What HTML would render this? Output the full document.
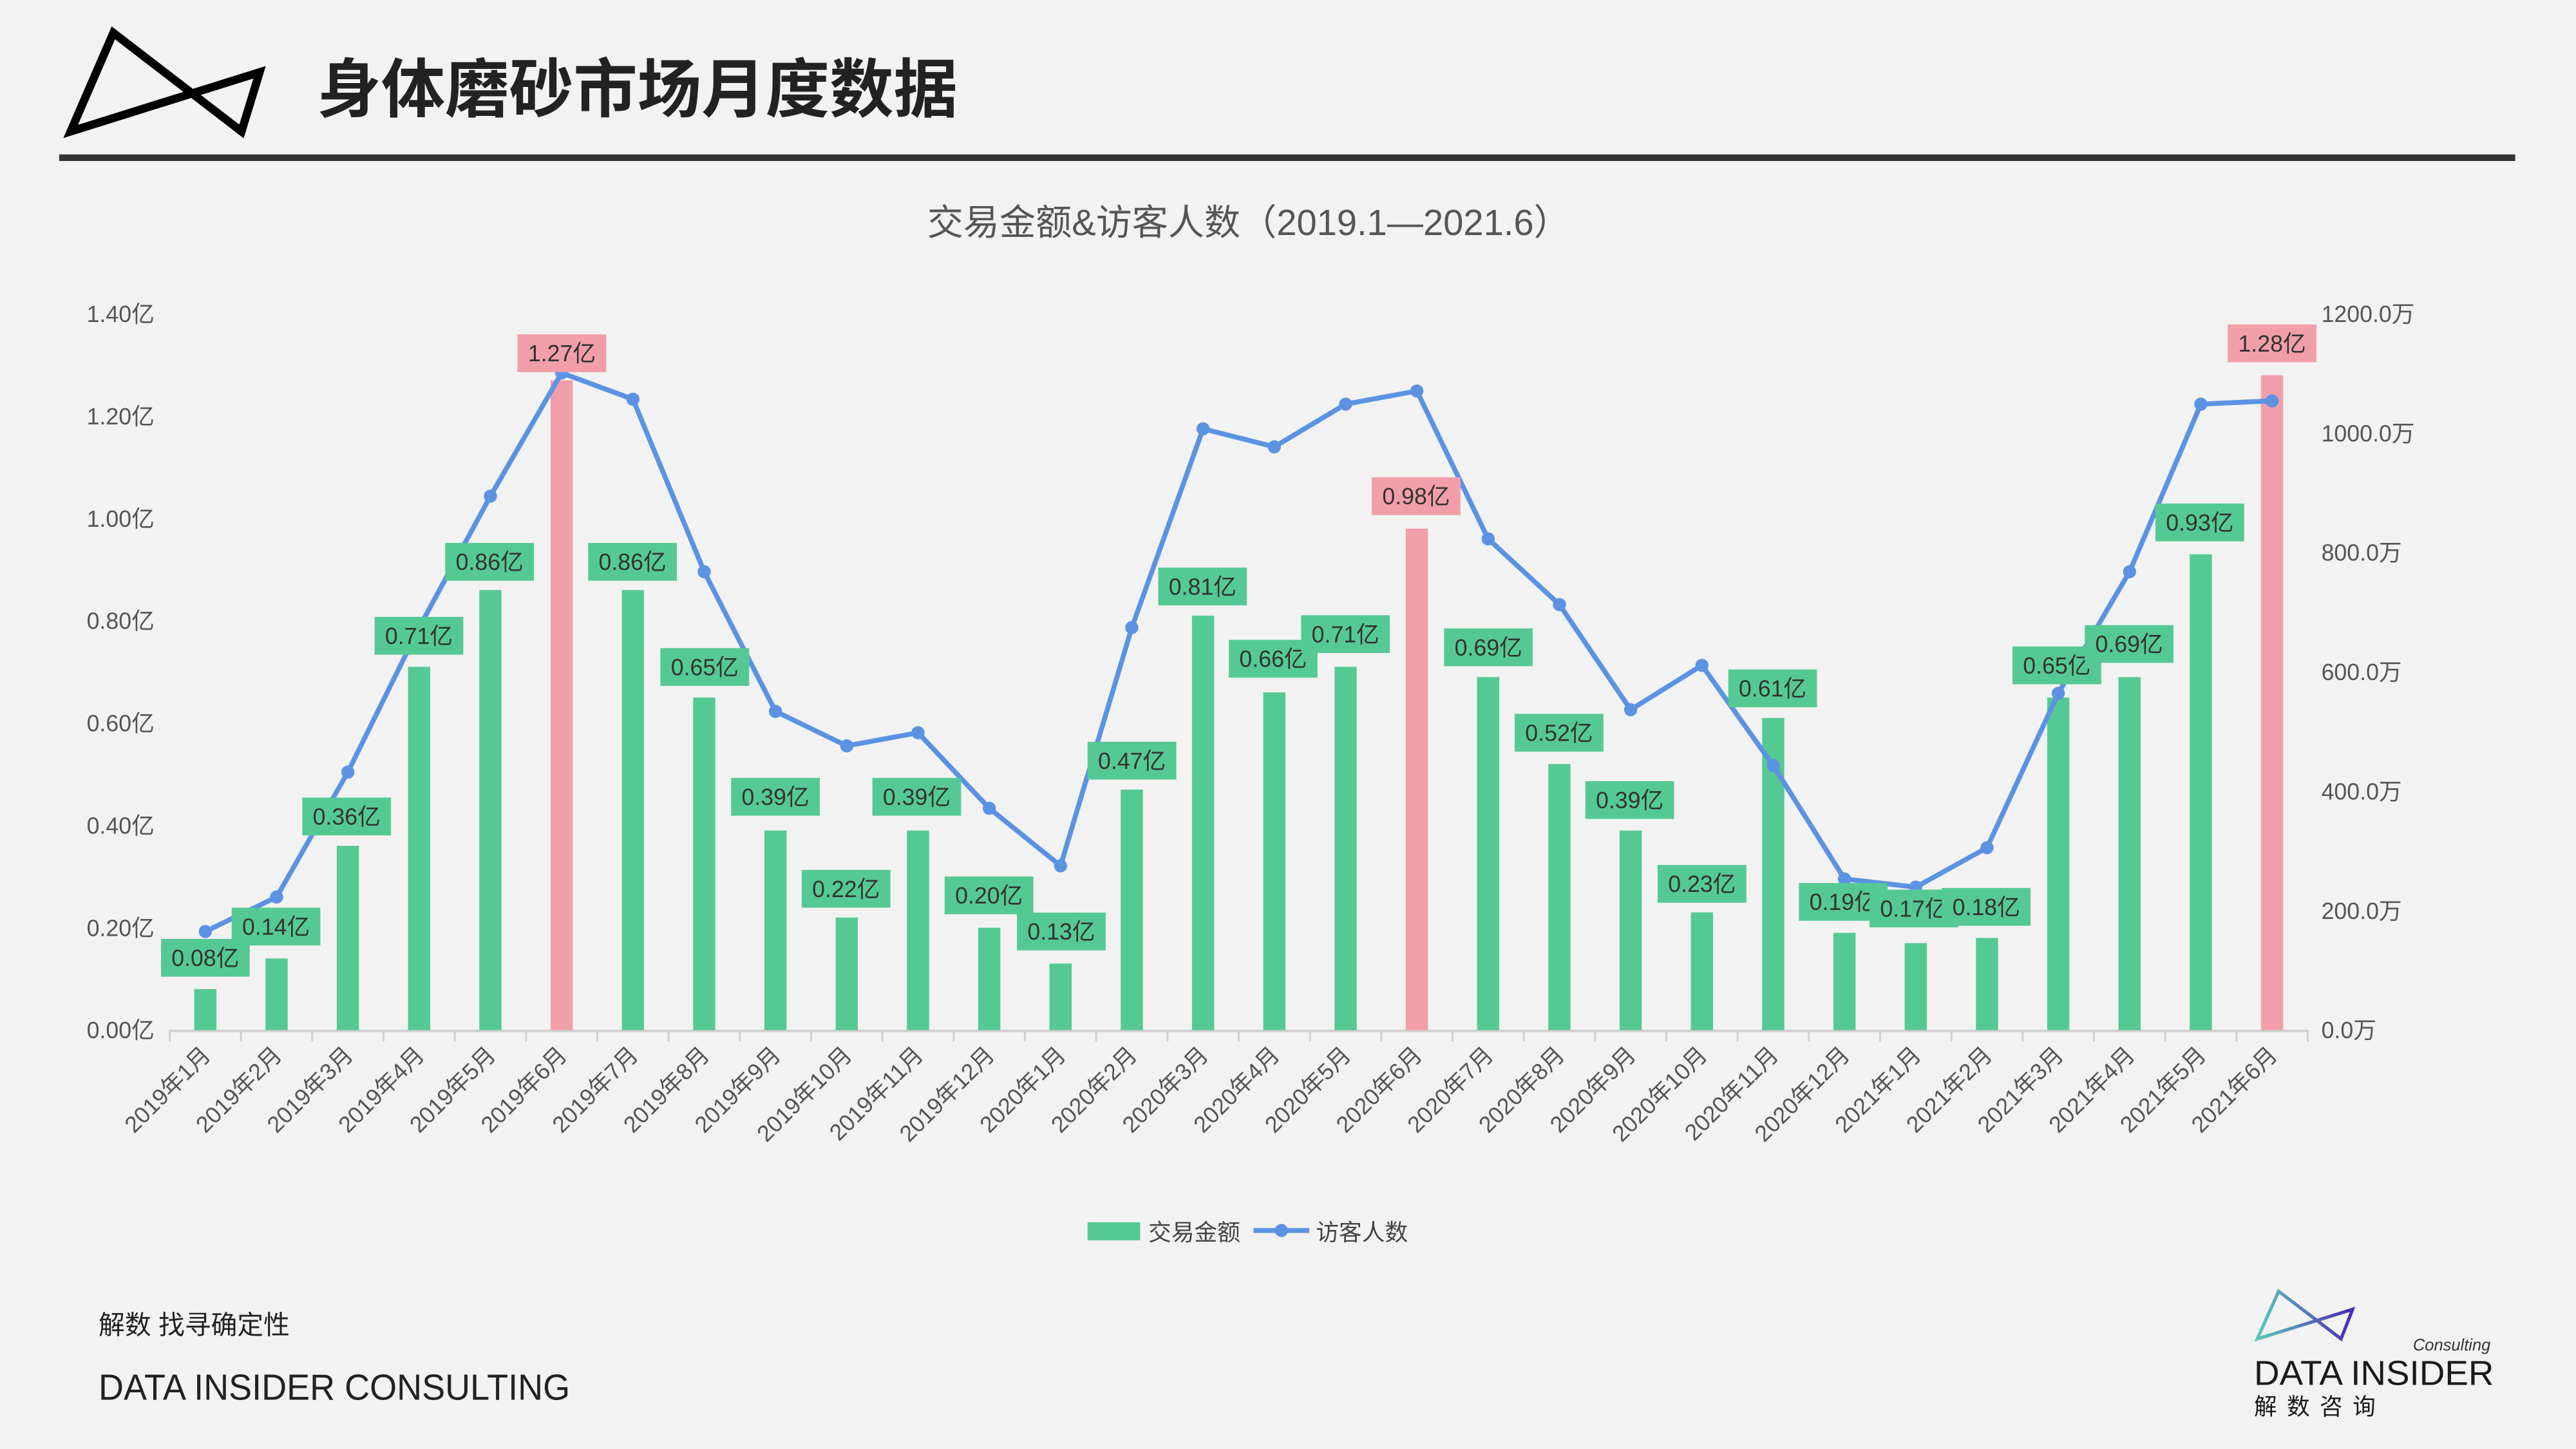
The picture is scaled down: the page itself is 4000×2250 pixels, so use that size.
<!DOCTYPE html>
<html><head><meta charset="utf-8"><style>html,body{margin:0;padding:0;background:#f2f2f2;}svg{display:block;}</style></head>
<body>
<svg width="4000" height="2250" viewBox="0 0 1568 882" xmlns="http://www.w3.org/2000/svg" font-family="Liberation Sans, Noto Sans CJK SC, sans-serif">
<defs><linearGradient id="lg" x1="0" x2="1" y1="0" y2="0"><stop offset="0" stop-color="#5cc9b8"/><stop offset="1" stop-color="#4a2ab5"/></linearGradient></defs>
<rect width="1568" height="882" fill="#f2f2f2"/>
<polygon points="69,20 147,80 158,44 43,80" fill="none" stroke="#000" stroke-width="5" stroke-linejoin="miter"/>
<text x="193" y="68" font-size="39" font-weight="bold" fill="#222">身体磨砂市场月度数据</text>
<rect x="36" y="94" width="1495" height="4" fill="#333"/>
<text x="760" y="143" font-size="22" fill="#555" text-anchor="middle">交易金额&amp;访客人数（2019.1—2021.6）</text>
<g id="chart"></g>
<rect x="662" y="744" width="32" height="11" fill="#55c994"/>
<text x="699" y="755" font-size="14" fill="#444">交易金额</text>
<line x1="763" y1="749" x2="797" y2="749" stroke="#5b93e2" stroke-width="3"/>
<circle cx="780" cy="749" r="4" fill="#5b93e2"/>
<text x="801" y="755" font-size="14" fill="#444">访客人数</text>
<text x="60" y="812" font-size="16" fill="#222">解数 找寻确定性</text>
<text x="60" y="852" font-size="22" fill="#222" textLength="287" lengthAdjust="spacingAndGlyphs">DATA INSIDER CONSULTING</text>
<polygon points="1387,786 1425,815 1432,797 1374,815" fill="none" stroke="url(#lg)" stroke-width="2"/>
<text x="1516" y="822" font-size="10" font-style="italic" fill="#333" text-anchor="end">Consulting</text>
<text x="1372" y="843" font-size="21" fill="#1a1a1a" textLength="146" lengthAdjust="spacingAndGlyphs">DATA INSIDER</text>
<text x="1372" y="861" font-size="14" fill="#1a1a1a" letter-spacing="6">解数咨询</text>
<script>
var ns="http://www.w3.org/2000/svg",g=document.getElementById('chart');
function el(t,a,txt){var e=document.createElementNS(ns,t);for(var k in a)e.setAttribute(k,a[k]);if(txt!=null)e.textContent=txt;g.appendChild(e);return e;}
var B=627,T=191,H=B-T;
for(var i=0;i<=7;i++){var y=B-H*i/7;el('text',{x:94,y:y+5,'font-size':14,fill:'#555','text-anchor':'end'},(i*0.2).toFixed(2)+'亿');}
for(var i=0;i<=6;i++){var y=B-H*i/6;el('text',{x:1413,y:y+5,'font-size':14,fill:'#555'},(i*200).toFixed(1)+'万');}
var bars=[0.08,0.14,0.36,0.71,0.86,1.27,0.86,0.65,0.39,0.22,0.39,0.20,0.13,0.47,0.81,0.66,0.71,0.98,0.69,0.52,0.39,0.23,0.61,0.19,0.17,0.18,0.65,0.69,0.93,1.28];
var ly=[567,546,470,382,302,227,243,348,433,454,446,492,527,382,261,272,246,238,328,368,432,405,466,535,540,516,422,348,246,244];
var lab=[[125,583],[168,564],[211,497],[255,387],[298,342],[342,215],[385,342],[429,406],[472,485],[515,541],[558,485],[602,545],[646,567],[689,463],[732,357],[775,401],[819,386],[862,302],[906,394],[949,446],[992,487],[1036,538],[1079,419],[1122,549],[1165,553],[1209,552],[1252,405],[1296,392],[1339,318],[1383,209]];
var x0=103.3,step=43.38;
el('line',{x1:x0,y1:B+0.5,x2:x0+30*step,y2:B+0.5,stroke:'#d0d0d0','stroke-width':1.5});
for(var i=0;i<=30;i++){var x=x0+i*step;el('line',{x1:x,y1:B,x2:x,y2:B+7,stroke:'#d0d0d0','stroke-width':1.2});}
var months=[];for(var i=0;i<30;i++){var yr=2019+Math.floor(i/12),m=i%12+1;months.push(yr+'年'+m+'月');}
for(var i=0;i<30;i++){
 var cx=x0+step*(i+0.5),h=bars[i]*H/1.4,pink=(i==5||i==17||i==29);
 el('rect',{x:cx-6.75,y:B-h,width:13.5,height:h,fill:pink?'#f29ea9':'#55c994'});
 el('text',{x:cx+4,y:B+16,'font-size':14,fill:'#555','text-anchor':'end',transform:'rotate(-45 '+(cx+4)+' '+(B+16)+')'},months[i]);
}
var pts=[];for(var i=0;i<30;i++)pts.push((x0+step*(i+0.5))+','+ly[i]);
el('polyline',{points:pts.join(' '),fill:'none',stroke:'#5b93e2','stroke-width':3,'stroke-linejoin':'round'});
for(var i=0;i<30;i++)el('circle',{cx:x0+step*(i+0.5),cy:ly[i],r:4,fill:'#5b93e2'});
for(var i=0;i<30;i++){var pink=(i==5||i==17||i==29),p=lab[i];
 el('rect',{x:p[0]-27,y:p[1]-11.5,width:54,height:23,fill:pink?'#f29ea9':'#55c994'});
 el('text',{x:p[0],y:p[1]+5,'font-size':14,fill:'#333','text-anchor':'middle'},bars[i].toFixed(2)+'亿');}
</script>
</svg>
</body></html>
